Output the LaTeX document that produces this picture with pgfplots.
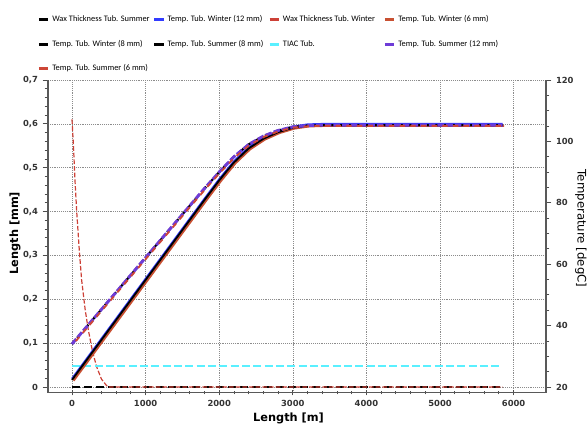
\documentclass[border=0pt]{standalone}
\usepackage{fontspec}
\setmainfont{Carlito}
\newfontfamily\dv{DejaVu Sans}
\usepackage{pgfplots}
\pgfplotsset{compat=1.18}

\definecolor{waxred}{RGB}{205,65,55}
\definecolor{brick}{RGB}{200,80,50}
\definecolor{tred}{RGB}{205,70,55}
\definecolor{tblue}{RGB}{50,60,255}
\definecolor{tpurple}{RGB}{110,60,215}
\definecolor{tcyan}{RGB}{90,240,255}

\pgfplotsset{
  common/.style={
    scale only axis, width=373.5pt, height=234.5pt,
    at={(0,0)}, anchor=south west,
    xmin=-326, xmax=6440,
    tick label style={font=\dv\bfseries\fontsize{6.3}{7}\selectfont, text=black!80},
    /pgf/number format/assume math mode=true,
    major tick length=4pt, minor tick length=2.5pt,
    every tick/.style={black!70, semithick},
    axis line style={black!65, thick},
  },
}

% temperature curves, x [m] and T [degC]
\pgfplotstableread{
x T
0 34.0
500 48.07
1000 62.14
1500 76.21
1800 84.66
2000 90.0
2200 95.0
2400 99.0
2600 101.71
2800 103.57
3000 104.71
3200 105.14
3400 105.29
5850 105.29
}\summer
\pgfplotstableread{
x T
0 22.29
500 38.57
1000 54.86
1500 71.14
1800 80.91
2000 87.29
2200 93.14
2400 97.71
2600 100.86
2800 103.0
3000 104.43
3200 105.14
3400 105.29
5850 105.29
}\winter

\begin{document}
\begin{tikzpicture}
\path[use as bounding box] (-36pt,-27.975pt) rectangle (404.25pt,294.5pt);

% left axis: wax thickness
\begin{axis}[common,
    axis x line*=bottom, axis y line*=left,
    ymin=-0.013, ymax=0.7,
    xtick={0,1000,...,6000}, minor x tick num=4,
    ytick={0,0.1,...,0.7}, minor y tick num=4,
    xtick align=center, ytick align=outside,
    scaled x ticks=false,
    x tick label style={/pgf/number format/1000 sep={}},
    y tick label style={/pgf/number format/.cd, use comma, fixed, precision=1},
    grid=major, grid style={black!45, densely dotted, thin},
    xlabel={Length [m]},
    xlabel style={font=\dv\bfseries\fontsize{8.5}{10}\selectfont, at={(axis description cs:0.483,0)}, anchor=north, yshift=-12pt},
    ylabel={Length [mm]},
    ylabel style={font=\dv\bfseries\fontsize{8.5}{10}\selectfont, at={(axis description cs:-0.066,0.51)}, anchor=center},
]
\addplot[black, line width=1.6pt, dash pattern=on 6pt off 3pt] coordinates {(0,0)(5850,0)};
\addplot[waxred, line width=0.9pt, dash pattern=on 3.5pt off 1.5pt] coordinates {
  (0,0.61)(20,0.55)(41,0.47)(64,0.40)(100,0.31)(131,0.244)(180,0.175)(222,0.13)
  (280,0.08)(335,0.046)(400,0.018)(470,0.003)(500,0)(5850,0)};
\end{axis}

% right axis: temperatures
\begin{axis}[common,
    axis x line=none, axis y line*=right,
    ymin=18.14, ymax=120,
    ytick={20,40,...,120}, minor y tick num=3,
    ytick align=outside,
    ylabel={Temperature [degC]},
    ylabel style={font=\dv\fontsize{8.8}{10}\selectfont, at={(axis description cs:1.07,0.525)}, anchor=center, rotate=180},
    legend columns=4,
    legend style={draw=none, fill=none, font=\fontsize{6.3}{8}\selectfont,
      at={(rel axis cs:0,1)}, anchor=north west, xshift=-9pt, yshift=51.5pt,
      row sep=8.3pt, inner sep=1pt},
    legend cell align=left,
    legend image code/.code={\draw[#1, solid, line width=2pt] (0pt,0pt) -- (7pt,0pt);},
]
% TIAC
\addplot[forget plot, tcyan, line width=1.3pt, dash pattern=on 6pt off 2.5pt] coordinates {(0,26.9)(5850,26.9)};
% winter 12 mm (slightly above)
\addplot[forget plot, tblue, line width=1.5pt, yshift=0.9pt] table[x=x, y=T] {\winter};
% winter 6 mm (slightly below / right)
\addplot[forget plot, brick, line width=1.5pt, xshift=1.2pt, yshift=-0.6pt] table[x=x, y=T] {\winter};
% winter 8 mm
\addplot[forget plot, black, line width=1.4pt] table[x=x, y=T] {\winter};
% summer 8 mm
\addplot[forget plot, black, line width=1.6pt, dash pattern=on 5pt off 3pt, dash phase=2pt] table[x=x, y=T] {\summer};
% summer 12 mm
\addplot[forget plot, tpurple, line width=2.2pt, dash pattern=on 5pt off 1.5pt] table[x=x, y=T] {\summer};
% summer 6 mm
\addplot[forget plot, tred, line width=1.4pt, dash pattern=on 4pt off 4pt, dash phase=4.5pt, xshift=0.6pt, yshift=-0.5pt] table[x=x, y=T] {\summer};

\addlegendimage{black}
\addlegendentry{\makebox[73.5pt][l]{Wax Thickness Tub. Summer}}
\addlegendimage{tblue}
\addlegendentry{\makebox[73.5pt][l]{Temp. Tub. Winter (12 mm)}}
\addlegendimage{waxred}
\addlegendentry{\makebox[73.5pt][l]{Wax Thickness Tub. Winter}}
\addlegendimage{brick}
\addlegendentry{\makebox[73.5pt][l]{Temp. Tub. Winter (6 mm)}}
\addlegendimage{black}
\addlegendentry{Temp. Tub. Winter (8 mm)}
\addlegendimage{black}
\addlegendentry{Temp. Tub. Summer (8 mm)}
\addlegendimage{tcyan}
\addlegendentry{TIAC Tub.}
\addlegendimage{tpurple}
\addlegendentry{Temp. Tub. Summer (12 mm)}
\addlegendimage{tred}
\addlegendentry{Temp. Tub. Summer (6 mm)}
\end{axis}
\end{tikzpicture}
\end{document}
